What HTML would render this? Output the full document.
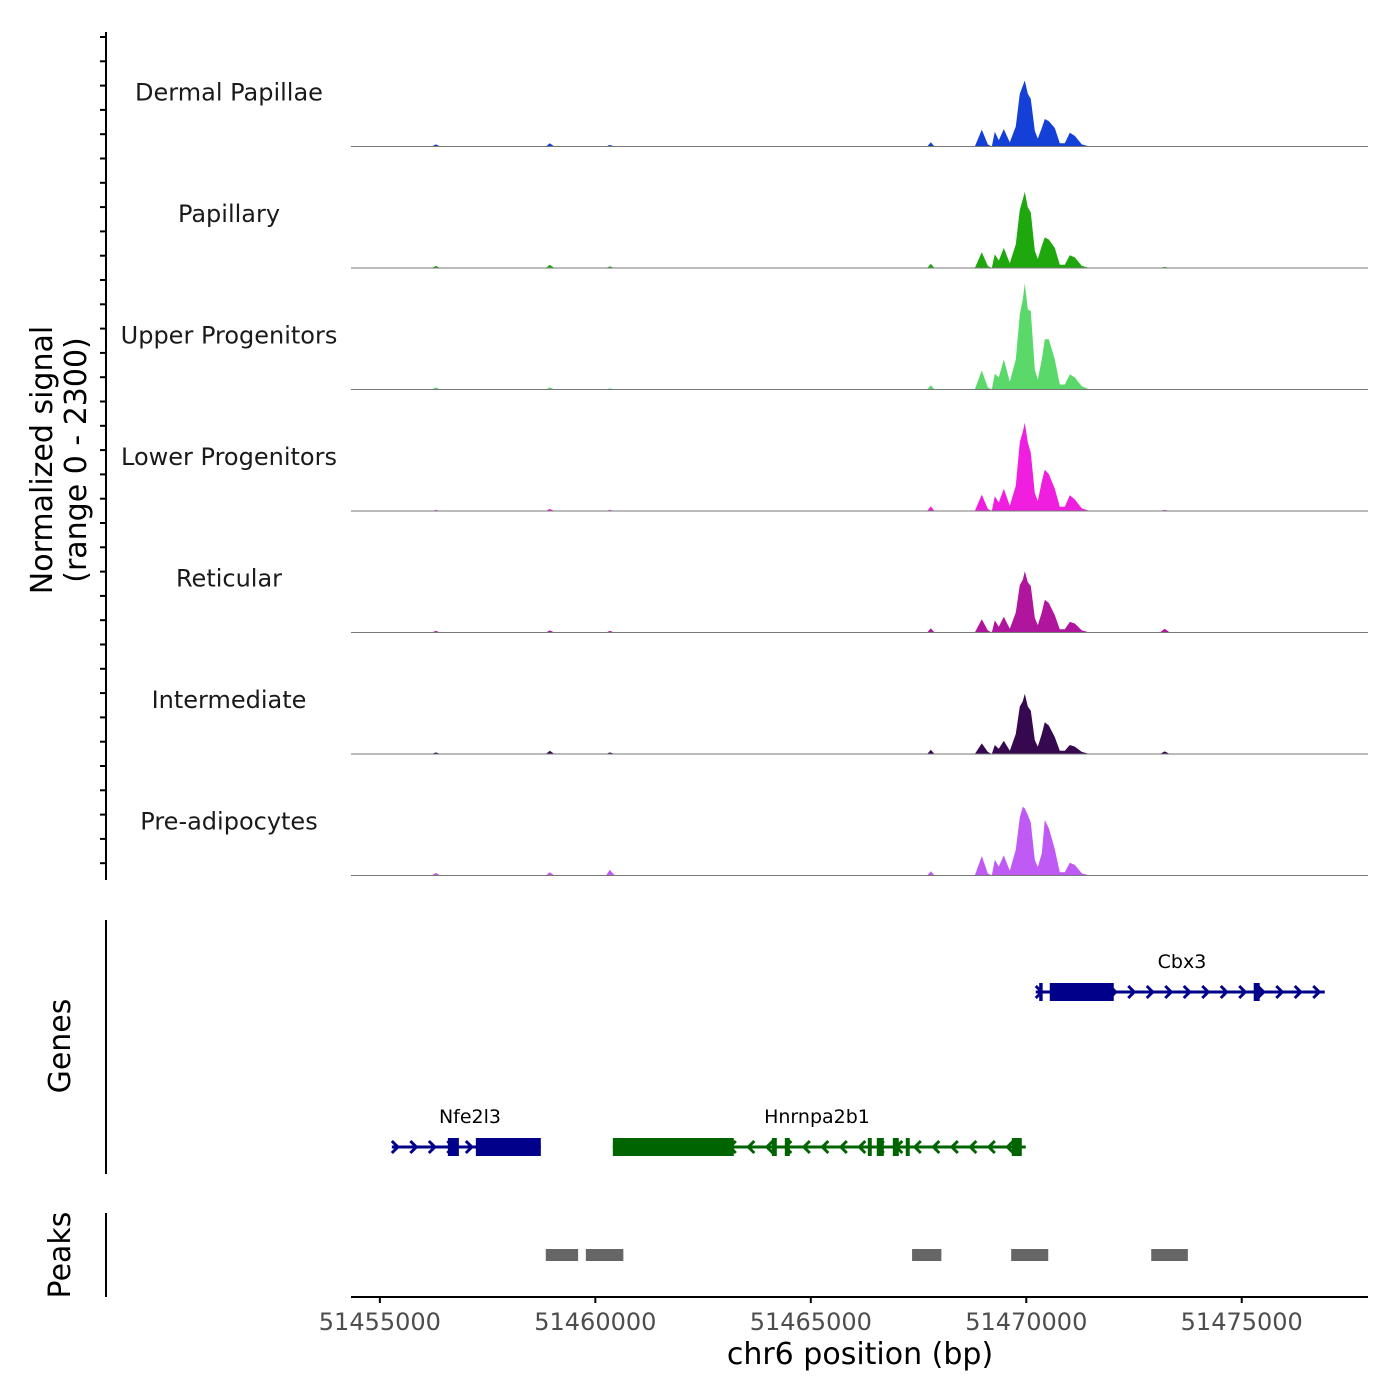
<!DOCTYPE html>
<html><head><meta charset="utf-8"><style>
html,body{margin:0;padding:0;background:#fff}
svg{display:block;font-family:"DejaVu Sans","Liberation Sans",sans-serif}
</style></head><body>
<svg id="chart" width="1400" height="1400" viewBox="0 0 1400 1400" xmlns="http://www.w3.org/2000/svg">
<g id="tracks"></g>
<g id="yaxis"></g>
<text transform="translate(52,460) rotate(-90)" text-anchor="middle" font-size="30" fill="#000">Normalized signal</text>
<text transform="translate(86,460) rotate(-90)" text-anchor="middle" font-size="30" fill="#000">(range 0 - 2300)</text>
<line x1="106" y1="920" x2="106" y2="1174" stroke="#000" stroke-width="2"/>
<text transform="translate(70,1046) rotate(-90)" text-anchor="middle" font-size="30">Genes</text>
<line x1="106" y1="1213" x2="106" y2="1297" stroke="#000" stroke-width="2"/>
<text transform="translate(70,1255) rotate(-90)" text-anchor="middle" font-size="30">Peaks</text>
<g id="genes"></g>
<g id="peaks"></g>
<g id="xaxis"></g>
<text x="860" y="1364" text-anchor="middle" font-size="30" fill="#000">chr6 position (bp)</text>
</svg>
<script>
const NS="http://www.w3.org/2000/svg";
const trackNames=["Dermal Papillae","Papillary","Upper Progenitors","Lower Progenitors","Reticular","Intermediate","Pre-adipocytes"];
const trackColors=["#1540d8","#1ea80e","#5ad96a","#f01fe0","#b0159e","#36084f","#c05af5"];
const positions=[51454330,51456200,51456299,51456400,51458850,51458944,51459050,51460250,51460336,51460450,51467700,51467784,51467870,51468805,51468967,51469107,51469200,51469269,51469362,51469478,51469617,51469756,51469849,51469919,51469965,51470035,51470104,51470197,51470267,51470360,51470429,51470522,51470661,51470777,51470893,51471009,51471125,51471288,51471473,51473100,51473213,51473330,51477920];
const dermal=[0,0,40,0,0,60,0,0,30,0,0,80,0,0,320,40,0,280,120,330,80,380,1000,1150,1250,1000,900,300,150,350,520,480,350,60,60,260,200,40,0,0,0,0,0];
const papillary=[0,0,40,0,0,60,0,0,30,0,0,80,0,0,300,40,0,260,140,380,90,450,1100,1300,1440,1150,1050,330,170,420,580,540,380,60,60,240,200,40,0,0,20,0,0];
const upper=[0,0,40,0,0,40,0,0,20,0,0,80,0,0,360,40,0,300,230,570,150,570,1420,1710,2010,1520,1480,380,190,570,950,950,570,95,95,285,230,60,0,0,0,0,0];
const lower=[0,0,20,0,0,40,0,0,20,0,0,90,0,0,310,40,0,280,160,420,100,480,1300,1500,1670,1300,1100,340,190,560,780,700,420,80,80,300,220,50,0,0,20,0,0];
const reticular=[0,0,30,0,0,40,0,0,30,0,0,80,0,0,250,40,0,230,110,300,70,380,900,1000,1160,950,880,280,140,380,620,560,330,60,60,200,170,40,0,0,70,0,0];
const intermediate=[0,0,30,0,0,60,0,0,30,0,0,80,0,0,200,40,0,170,100,250,60,380,900,1000,1140,900,820,260,140,380,600,540,320,60,60,170,140,40,0,0,50,0,0];
const preadipocytes=[0,0,50,0,0,60,0,0,110,0,0,80,0,0,370,40,0,300,170,380,90,490,1100,1300,1270,1150,1000,300,160,420,1050,900,500,60,60,240,200,40,0,0,0,0,0];
const trackValues=[dermal,papillary,upper,lower,reticular,intermediate,preadipocytes];
const yMax=2300;
const xTicks=[51455000,51460000,51465000,51470000,51475000];
const xDomain=[51454330,51477930];
const geneNames=["Cbx3","Nfe2l3","Hnrnpa2b1"];
const geneStart=[51470220,51455278,51460406];
const geneEnd=[51476926,51458735,51469988];
const geneStrand=[1,1,-1];
const geneRow=[0,1,1];
const geneExonStart=[[51470300,51470545,51475278],[51456578,51457227],[51460406,51464095,51464397,51466323,51466531,51466903,51467204,51469664]];
const geneExonEnd=[[51470380,51472030,51475417],[51456833,51458735],[51463213,51464211,51464513,51466415,51466694,51467042,51467296,51469896]];
const peakStart=[51458850,51459780,51467350,51469650,51472900];
const peakEnd=[51459600,51460650,51468030,51470510,51473750];

const X0=351,X1=1368;
function xs(bp){return X0+(bp-xDomain[0])/(xDomain[1]-xDomain[0])*(X1-X0);}
const trackTop=25,trackH=121.5;
function el(tag,attrs,parent){const e=document.createElementNS(NS,tag);for(const k in attrs)e.setAttribute(k,attrs[k]);parent.appendChild(e);return e;}

const tracks=document.getElementById('tracks');
trackValues.forEach((vals,i)=>{
  const base=trackTop+trackH*(i+1);
  const ys=v=>base-v/yMax*trackH;
  let d="M"+xs(positions[0]).toFixed(1)+","+base;
  positions.forEach((p,j)=>{d+=" L"+xs(p).toFixed(1)+","+ys(vals[j]).toFixed(1);});
  d+=" L"+xs(positions[positions.length-1]).toFixed(1)+","+base+" Z";
  const a=el('path',{d:d,fill:trackColors[i]},tracks);
  
  
  const l=el('line',{x1:X0,x2:X1,y1:base,y2:base,stroke:'#777','stroke-width':1},tracks);
  
  
  const t=el('text',{x:229,y:base-46,'text-anchor':'middle','font-size':24,fill:'#1a1a1a'},tracks);
  t.textContent=trackNames[i];
  
  
});

const yaxis=document.getElementById('yaxis');
el('line',{x1:106,y1:32,x2:106,y2:880,stroke:'#000','stroke-width':2},yaxis);
for(let y=37;y<=880;y+=24.3){
  const tk=el('line',{x1:100,x2:106,y1:y,y2:y,stroke:'#000','stroke-width':2},yaxis);
  
  
}

const genes=document.getElementById('genes');
geneNames.forEach((g,i)=>{
  const y=geneRow[i]===0?992:1147;
  const col=geneStrand[i]>0?'#00008b':'#006400';
  const gg=el('g',{},genes);
  
  
  const xa=xs(geneStart[i]),xb=xs(geneEnd[i]);
  el('line',{x1:xa,x2:xb,y1:y,y2:y,stroke:col,'stroke-width':3},gg);
  for(let x=xa+6;x<xb;x+=18.5){
    const dx=geneStrand[i]>0?-6:6;
    el('polyline',{points:(x+dx)+","+(y-6)+" "+x+","+y+" "+(x+dx)+","+(y+6),fill:'none',stroke:col,'stroke-width':3},gg);
  }
  geneExonStart[i].forEach((s,j)=>{
    el('rect',{x:xs(s),y:y-9,width:Math.max(3,xs(geneExonEnd[i][j])-xs(s)),height:18,fill:col},gg);
  });
  const t=el('text',{x:(xa+xb)/2,y:y-24,'text-anchor':'middle','font-size':19,fill:'#000'},gg);
  if(i===0)t.setAttribute('x',1182);
  if(i===1)t.setAttribute('x',470);
  if(i===2)t.setAttribute('x',817);
  t.textContent=g;
});

const peaks=document.getElementById('peaks');
peakStart.forEach((s,i)=>{
  const r=el('rect',{x:xs(s),y:1249,width:xs(peakEnd[i])-xs(s),height:12,fill:'#666'},peaks);
  
  
});

const xaxis=document.getElementById('xaxis');
el('line',{x1:X0,x2:X1,y1:1297,y2:1297,stroke:'#000','stroke-width':2},xaxis);
xTicks.forEach(v=>{
  const tk=el('line',{x1:xs(v),x2:xs(v),y1:1297,y2:1303,stroke:'#000','stroke-width':2},xaxis);
  
  
  const t=el('text',{x:xs(v),y:1330,'text-anchor':'middle','font-size':24,fill:'#4d4d4d'},xaxis);
  t.textContent=v;
  
  
});
</script>
</body></html>
